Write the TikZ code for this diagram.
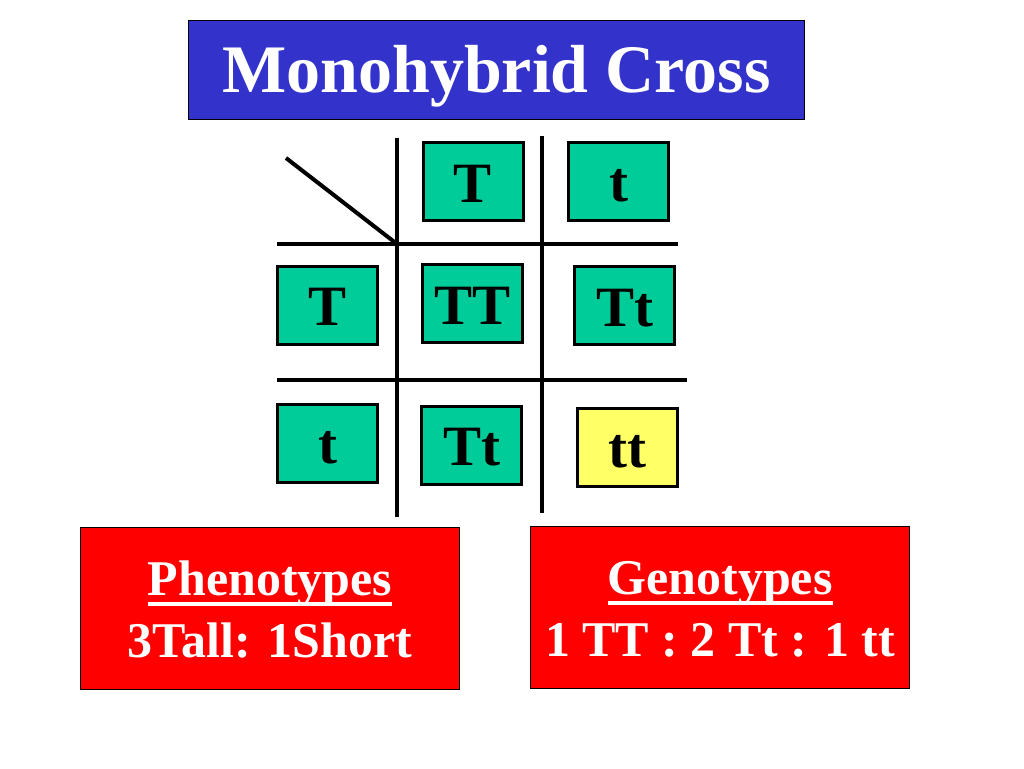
\documentclass[tikz,border=0pt]{standalone}
\usepackage{fontspec}
\setmainfont{Liberation Serif}
\definecolor{titleblue}{HTML}{3333CC}
\definecolor{cellgreen}{HTML}{00CC99}
\definecolor{cellyellow}{HTML}{FFFF66}
\definecolor{boxred}{HTML}{FF0000}
\newcommand\myul[1]{\setbox0\hbox{#1}\rlap{\rule[-11pt]{\wd0}{4pt}}\box0}
\tikzset{
  titlebox/.style={draw=black, line width=1pt, fill=titleblue, text=white, inner sep=0pt,
    minimum width=616pt, minimum height=99pt, font=\bfseries\fontsize{68}{70}\selectfont,
    text height=44pt, text depth=0pt},
  cell/.style={draw=black, line width=3pt, fill=cellgreen, inner sep=0pt,
    minimum width=100pt, minimum height=78pt, font=\bfseries\fontsize{57}{60}\selectfont,
    text height=41pt, text depth=0pt},
  yellowcell/.style={cell, fill=cellyellow},
  grid/.style={line width=4pt, draw=black},
  redbox/.style={draw=black, line width=1pt, fill=boxred, minimum width=379pt, minimum height=162pt, inner sep=0pt},
  wtext/.style={text=white, inner sep=0pt, font=\bfseries\fontsize{50}{62}\selectfont}
}
\begin{document}
\begin{tikzpicture}[x=1pt,y=-1pt]
\useasboundingbox (0,0) rectangle (1024,768);
\fill[white] (0,0) rectangle (1024,768);
% title
\node[titlebox] (title) at (496.5,70) {Monohybrid Cross};
% grid lines
\coordinate (v1t) at (397,138); \coordinate (v1b) at (397,517);
\coordinate (v2t) at (542,136); \coordinate (v2b) at (542,513);
\coordinate (h1l) at (277,244); \coordinate (h1r) at (678,244);
\coordinate (h2l) at (277,380); \coordinate (h2r) at (687,380);
\coordinate (dg) at (286,158); \coordinate (corner) at (397,244);
\draw[grid] (v1t) -- (v1b);
\draw[grid] (v2t) -- (v2b);
\draw[grid] (h1l) -- (h1r);
\draw[grid] (h2l) -- (h2r);
\draw[grid] (dg) -- (corner);
% cells
\node[cell] (topT) at (473,181.5) {T};
\node[cell] (topt) at (618.5,181) {t};
\node[cell] (leftT) at (327.5,305) {T};
\node[cell] (TT) at (472.5,303.5) {TT};
\node[cell] (Tt1) at (624.5,305.5) {Tt};
\node[cell] (leftt) at (327.5,443) {t};
\node[cell] (Tt2) at (471.5,445) {Tt};
\node[yellowcell] (tt) at (627.5,447) {tt};
% result boxes
\node[redbox] (pbox) at (270,608.5) {};
\node[wtext, anchor=base] (ptitle) at (270,595) {\myul{Phenotypes}};
\node[wtext, anchor=base] (pratio) at (270,657) {3Tall: 1Short};
\node[redbox] (gbox) at (720,607) {};
\node[wtext, anchor=base] (gtitle) at (720,594) {\myul{Genotypes}};
\node[wtext, anchor=base] (gratio) at (720,656) {1 TT : 2 Tt : 1 tt};
\end{tikzpicture}
\end{document}
